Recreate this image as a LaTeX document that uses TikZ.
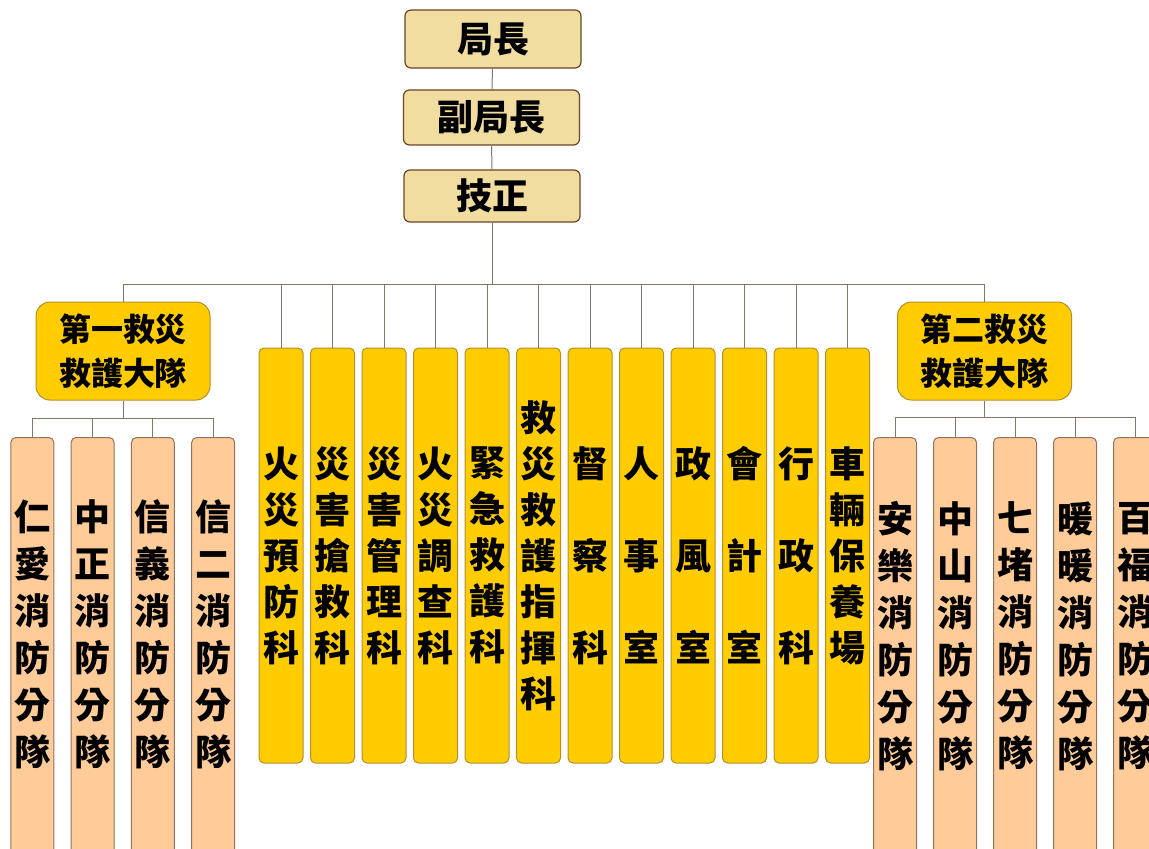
\documentclass[tikz,border=0pt]{standalone}
\usepackage{fontspec}
\setmainfont{Noto Sans CJK TC}
\usetikzlibrary{positioning}
\definecolor{tan}{HTML}{F1DD9F}
\definecolor{tanline}{HTML}{6B4526}
\definecolor{gold}{HTML}{FFCC00}
\definecolor{goldline}{HTML}{B38F2A}
\definecolor{peach}{HTML}{FFCC99}
\definecolor{peachline}{HTML}{8F7360}
\definecolor{wire}{HTML}{857566}
\tikzset{
  head/.style={draw=tanline, fill=tan, line width=1.2pt, rounded corners=6pt,
    minimum width=176pt, minimum height=55pt, inner sep=0pt,
    font=\fontsize{36}{40}\selectfont\bfseries},
  team/.style={draw=goldline, fill=gold, line width=1pt, rounded corners=14pt,
    minimum width=174pt, minimum height=98pt, inner sep=0pt, align=center,
    font=\fontsize{32}{44}\selectfont\bfseries},
  dept/.style={draw=goldline, fill=gold, line width=1pt, rounded corners=5pt,
    minimum width=44pt, minimum height=415pt, inner sep=0pt, align=center,
    font=\fontsize{36}{46}\selectfont\bfseries},
  stn/.style={draw=peachline, fill=peach, line width=1pt, rounded corners=5pt,
    minimum width=43pt, minimum height=430pt, inner sep=0pt, anchor=north},
  vtxt/.style={inner sep=0pt, align=center, font=\fontsize{36}{47}\selectfont\bfseries},
  link/.style={draw=wire, line width=1pt}
}

\begin{document}
\begin{tikzpicture}[x=1pt, y=-1pt]
\useasboundingbox (0,0) rectangle (1149,849);
\fill[white] (0,0) rectangle (1149,849);
\clip (0,0) rectangle (1149,849);

% top of the chart
\node[head, minimum height=58pt] (chief) at (493,39) {局長};
\node[head] (deputy) at (491.5,117.5) {副局長};
\node[head, minimum height=52pt] (tech) at (492,196) {技正};
\draw[link] (chief) -- (deputy);
\draw[link] (deputy) -- (tech);

% main bus
\coordinate (bus) at (492,284);
\draw[link] (tech) -- (bus);

% the two rescue brigades
\node[team] (team1) at (123,351) {第一救災\\救護大隊};
\node[team] (team2) at (984.5,351) {第二救災\\救護大隊};
\draw[link] (bus) -| (team1.north);
\draw[link] (bus) -| (team2.north);

% sections under the bus
\foreach \txt [count=\i] in {
  {火\\災\\預\\防\\科}, {災\\害\\搶\\救\\科}, {災\\害\\管\\理\\科},
  {火\\災\\調\\查\\科}, {緊\\急\\救\\護\\科}, {救\\災\\救\\護\\指\\揮\\科},
  {督\\[46pt]察\\[46pt]科}, {人\\[46pt]事\\[46pt]室}, {政\\[46pt]風\\[46pt]室},
  {會\\[46pt]計\\[46pt]室}, {行\\[46pt]政\\[46pt]科}, {車\\輛\\保\\養\\場}} {
  \node[dept] (sec\i) at (229.5+51.5*\i,555.5) {\txt};
  \draw[link] (bus) -| (sec\i.north);
}

% stations of the first brigade
\coordinate (bus1) at (123,418);
\draw[link] (team1) -- (bus1);
\foreach \txt [count=\i] in {
  {仁\\愛\\消\\防\\分\\隊}, {中\\正\\消\\防\\分\\隊},
  {信\\義\\消\\防\\分\\隊}, {信\\二\\消\\防\\分\\隊}} {
  \node[stn] (lstn\i) at (-28+60.3*\i,437) {};
  \node[vtxt] (lname\i) at ([yshift=-197pt]lstn\i.north) {\txt};
  \draw[link] (bus1) -| (lstn\i.north);
}

% stations of the second brigade
\coordinate (bus2) at (984.5,417);
\draw[link] (team2) -- (bus2);
\foreach \txt [count=\i] in {
  {安\\樂\\消\\防\\分\\隊}, {中\\山\\消\\防\\分\\隊}, {七\\堵\\消\\防\\分\\隊},
  {暖\\暖\\消\\防\\分\\隊}, {百\\福\\消\\防\\分\\隊}} {
  \node[stn] (rstn\i) at (835+60*\i,437) {};
  \node[vtxt] (rname\i) at ([yshift=-199pt]rstn\i.north) {\txt};
  \draw[link] (bus2) -| (rstn\i.north);
}
\end{tikzpicture}
\end{document}
